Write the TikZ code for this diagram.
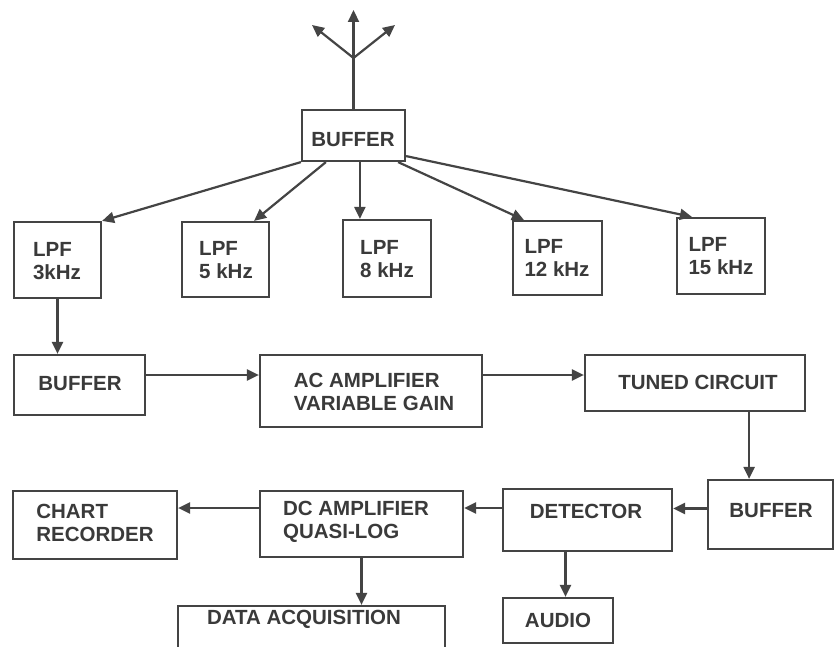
\documentclass[tikz,border=0pt]{standalone}
\usepackage{fontspec}
\setmainfont{Liberation Sans}
\usetikzlibrary{arrows.meta,fit,calc}
\definecolor{ln}{HTML}{444444}
\definecolor{tx}{HTML}{3A3A3A}
\tikzset{
  box/.style={draw=ln, line width=2.2pt, inner sep=0pt, fill=none},
  lbl/.style={text=tx, font=\bfseries\fontsize{20.5}{23}\selectfont, align=left, inner sep=0pt},
  arr/.style={draw=ln, line width=2.2pt, -{Triangle[length=12pt,width=11pt]}},
}
\newcommand\blk[8]{%
  \node[box, fit={(#2,#3) (#4,#5)}] (#1) {};
  \node[lbl] (#1-t) at (#6,#7) {#8};
}
\begin{document}
\begin{tikzpicture}[x=1pt,y=-1pt]
\clip (0,0) rectangle (835,647);
\fill[white] (0,0) rectangle (835,647);
% top buffer
\blk{b1}{302}{110}{405}{161}{353}{140}{BUFFER}
% LPFs
\blk{l3}{14}{222}{101}{298}{57}{261}{LPF\\3kHz}
\blk{l5}{182}{222}{269}{297}{226}{260}{LPF\\5 kHz}
\blk{l8}{343}{220}{431}{297}{387}{259}{LPF\\8 kHz}
\blk{l12}{513}{221}{602}{295}{557}{258}{LPF\\12 kHz}
\blk{l15}{677}{218}{765}{294}{721}{256}{LPF\\15 kHz}
% row 2
\blk{buf2}{14}{355}{145}{415}{80}{384}{BUFFER}
\blk{ac}{260}{355}{482}{427}{374}{392}{AC AMPLIFIER\\VARIABLE GAIN}
\blk{tuned}{585}{355}{805}{411}{698}{382}{TUNED CIRCUIT}
% row 3
\blk{chart}{13}{491}{177}{559}{95}{523}{CHART\\RECORDER}
\blk{dc}{260}{491}{463}{557}{356}{522}{DC AMPLIFIER\\QUASI-LOG}
\blk{det}{503}{489}{672}{551}{586}{511}{DETECTOR}
\blk{buf3}{708}{480}{833}{549}{771}{511}{BUFFER}
% row 4
\blk{data}{178}{606}{445}{670}{304}{619}{DATA ACQUISITION}
\blk{audio}{503}{598}{613}{643}{558}{620}{AUDIO}
% antenna
\coordinate (ant) at (353.5,58);
\coordinate (antU) at (353.5,10);
\coordinate (antL) at (312,25);
\coordinate (antR) at (395,25);
\draw[arr] (b1.north) -- (antU);
\draw[arr] (ant) -- (antL);
\draw[arr] (ant) -- (antR);
% buffer to LPFs
\draw[arr] (b1.south west) -- (l3.north east);
\draw[arr] ([xshift=25]b1.south west) -- ([xshift=-16]l5.north east);
\draw[arr] ([xshift=18]l8.north west |- b1.south) -- ([xshift=18]l8.north west);
\draw[arr] ([xshift=-8]b1.south east) -- ([xshift=12]l12.north west);
\draw[arr] ([yshift=6]b1.south east) -- ([xshift=16]l15.north west);
% chain
\draw[arr] (l3.south) -- (l3.south |- buf2.north);
\draw[arr] ([yshift=10]buf2.east) -- ([yshift=10]buf2.east -| ac.west);
\draw[arr] ([yshift=16]ac.east) -- ([yshift=16]ac.east -| tuned.west);
\draw[arr] ([xshift=-57]tuned.south east) -- ([xshift=-57]tuned.south east |- buf3.north);
\draw[arr] ([yshift=6]buf3.west) -- ([yshift=6]buf3.west -| det.east);
\draw[arr] ([yshift=12]det.west) -- ([yshift=12]det.west -| dc.east);
\draw[arr] ([yshift=16]dc.west) -- ([yshift=16]dc.west -| chart.east);
\draw[arr] (dc.south) -- (dc.south |- data.north);
\draw[arr] ([xshift=-22]det.south) -- ([xshift=-22]det.south |- audio.north);
\end{tikzpicture}
\end{document}
